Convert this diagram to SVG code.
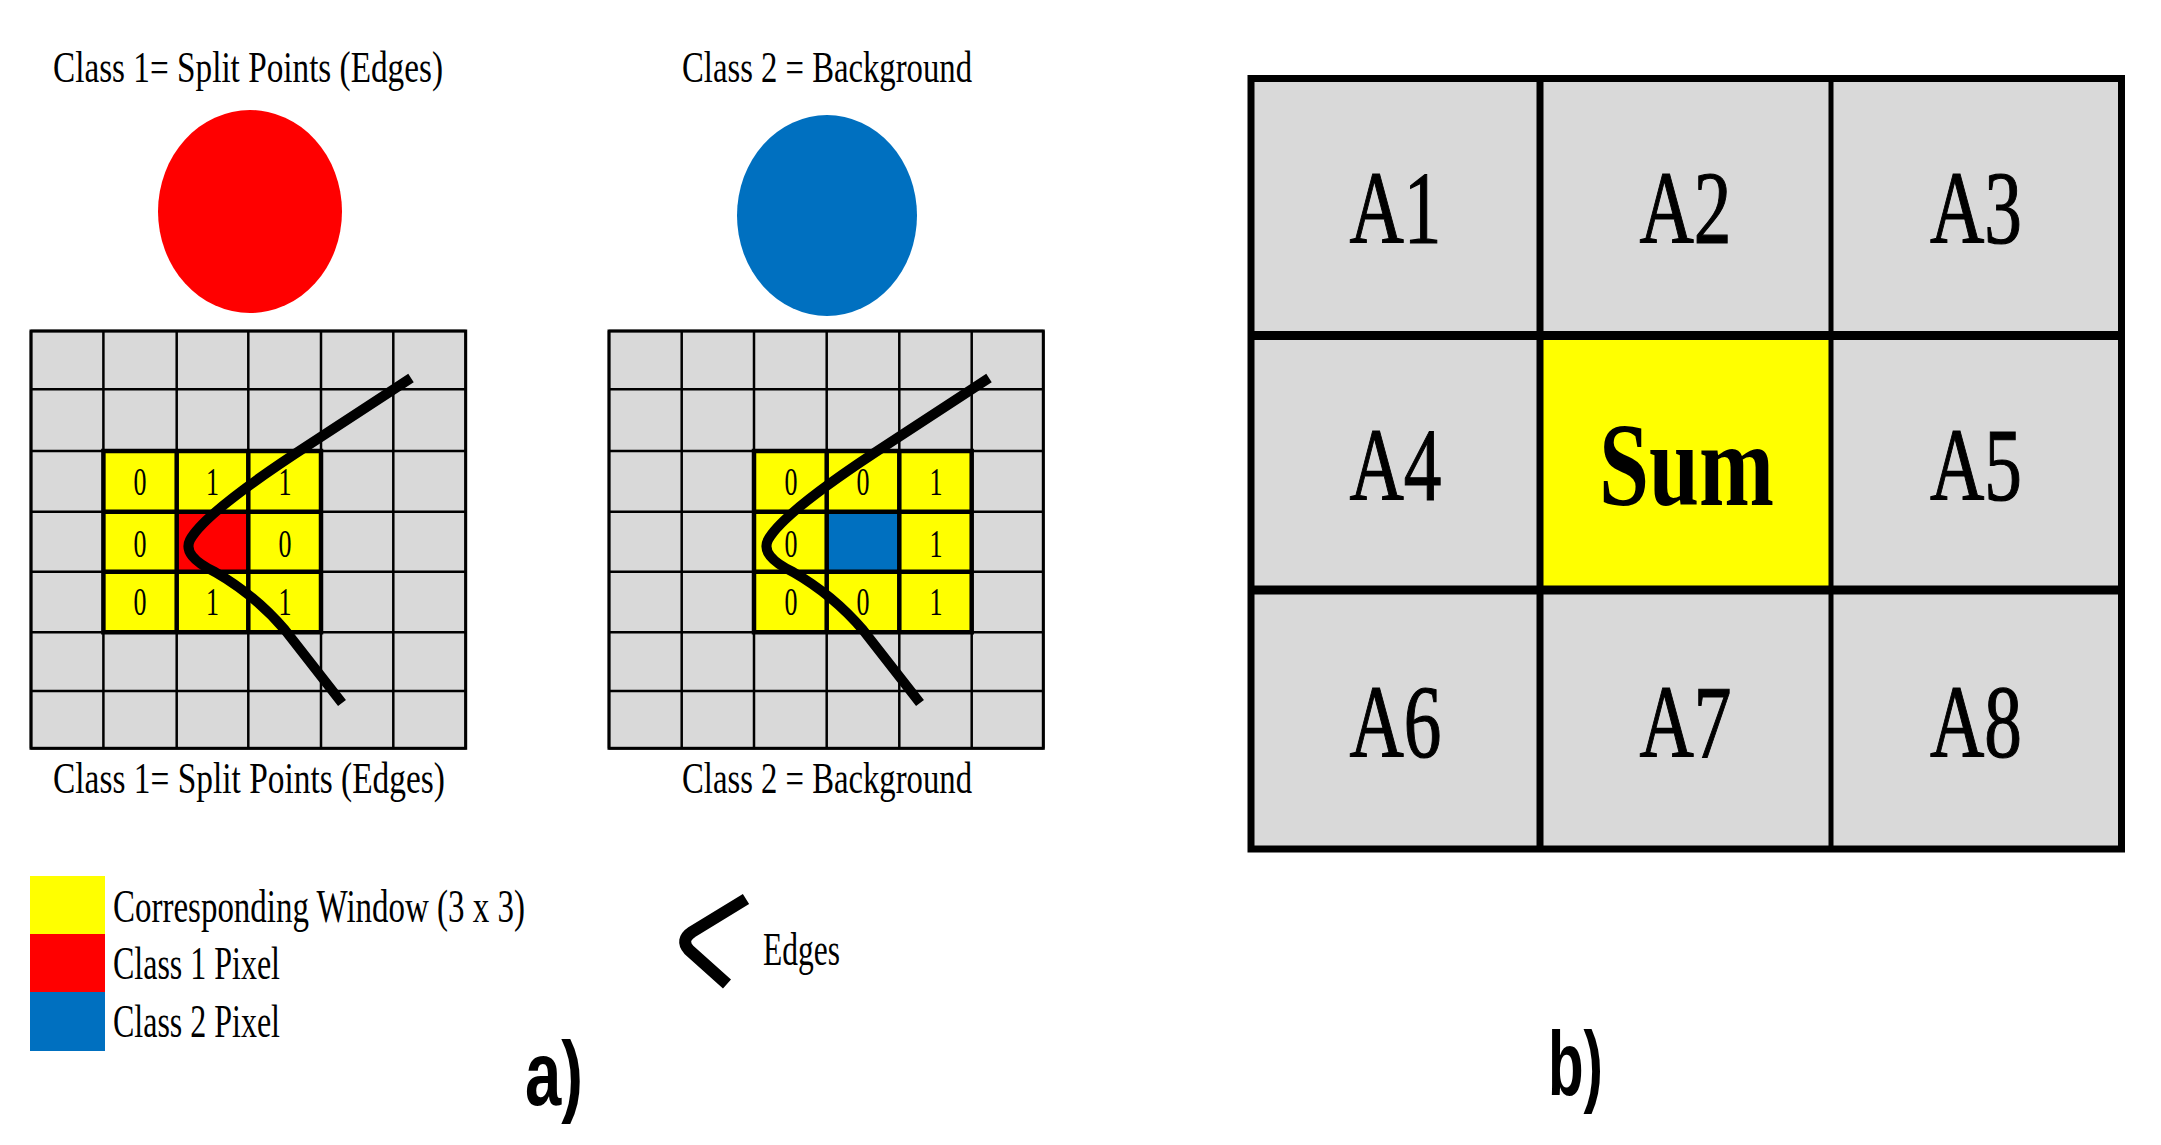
<svg xmlns="http://www.w3.org/2000/svg" width="2161" height="1145" viewBox="0 0 2161 1145">
<style>
.serif{font-family:"Liberation Serif","Times New Roman",serif;fill:#000}
.t{font-size:45px}
.leg{font-size:46px}
.dig{font-size:41px}
.big{font-size:103px;stroke:#000;stroke-width:1.2}
.sum{font-size:118px;font-weight:bold}
.lab{font-family:"Liberation Sans",Arial,sans-serif;font-weight:bold;font-size:90px;fill:#000}
.gline{stroke:#000;stroke-width:2.5;fill:none}
.wline{stroke:#000;stroke-width:4.5;fill:none}
.edge{stroke:#000;stroke-width:10;fill:none;stroke-linejoin:round}
.cell{fill:#D9D9D9}
.yel{fill:#FFFF00}
.red{fill:#FF0000}
.blue{fill:#0070C0}
</style>
<rect width="2161" height="1145" fill="#fff"/>

<g id="class1-top-title"><text class="serif t" x="53" y="82" textLength="390" lengthAdjust="spacingAndGlyphs">Class 1= Split Points (Edges)</text></g>
<g id="class2-top-title"><text class="serif t" x="682" y="82" textLength="290" lengthAdjust="spacingAndGlyphs">Class 2 = Background</text></g>
<g id="class1-circle"><ellipse class="red" cx="250" cy="211.5" rx="92" ry="101.5"/></g>
<g id="class2-circle"><ellipse class="blue" cx="827" cy="215.5" rx="90" ry="100.5"/></g>

<g id="grid-class1">
<rect class="cell" x="31" y="331" width="434.7" height="417.3"/>
<rect class="yel" x="103.4" y="451" width="217.6" height="181.3"/>
<rect class="red" x="176.7" y="511.7" width="71.6" height="60"/>
<path class="gline" d="M31,331V748.3M103.4,331V748.3M176.7,331V748.3M248.3,331V748.3M321,331V748.3M393.3,331V748.3M465.7,331V748.3M31,331H465.7M31,389.3H465.7M31,451H465.7M31,511.7H465.7M31,571.7H465.7M31,632.3H465.7M31,691H465.7M31,748.3H465.7"/>
<rect x="31" y="331" width="434.7" height="417.3" fill="none" stroke="#000" stroke-width="3"/>
<path class="wline" d="M103.4,451H321V632.3H103.4ZM176.7,451V632.3M248.3,451V632.3M103.4,511.7H321M103.4,571.7H321"/>
<g class="serif dig">
<text x="133.5" y="495" textLength="13" lengthAdjust="spacingAndGlyphs">0</text>
<text x="206" y="495" textLength="13" lengthAdjust="spacingAndGlyphs">1</text>
<text x="278.5" y="495" textLength="13" lengthAdjust="spacingAndGlyphs">1</text>
<text x="133.5" y="557" textLength="13" lengthAdjust="spacingAndGlyphs">0</text>
<text x="278.5" y="557" textLength="13" lengthAdjust="spacingAndGlyphs">0</text>
<text x="133.5" y="615" textLength="13" lengthAdjust="spacingAndGlyphs">0</text>
<text x="206" y="615" textLength="13" lengthAdjust="spacingAndGlyphs">1</text>
<text x="278.5" y="615" textLength="13" lengthAdjust="spacingAndGlyphs">1</text>
</g>
<path class="edge" d="M411,378 L310,444 Q205,512 190,540 Q182,556 215,572 Q255,595 285,630 L342,703"/>
</g>

<g id="grid-class2">
<rect class="cell" x="609" y="331" width="434.3" height="417.3"/>
<rect class="yel" x="754" y="451" width="217.7" height="181.3"/>
<rect class="blue" x="826.7" y="511.7" width="72.6" height="60"/>
<path class="gline" d="M609,331V748.3M681.7,331V748.3M754,331V748.3M826.7,331V748.3M899.3,331V748.3M971.7,331V748.3M1043.3,331V748.3M609,331H1043.3M609,389.3H1043.3M609,451H1043.3M609,511.7H1043.3M609,571.7H1043.3M609,632.3H1043.3M609,691H1043.3M609,748.3H1043.3"/>
<rect x="609" y="331" width="434.3" height="417.3" fill="none" stroke="#000" stroke-width="3"/>
<path class="wline" d="M754,451H971.7V632.3H754ZM826.7,451V632.3M899.3,451V632.3M754,511.7H971.7M754,571.7H971.7"/>
<g class="serif dig">
<text x="784.5" y="495" textLength="13" lengthAdjust="spacingAndGlyphs">0</text>
<text x="856.5" y="495" textLength="13" lengthAdjust="spacingAndGlyphs">0</text>
<text x="929.5" y="495" textLength="13" lengthAdjust="spacingAndGlyphs">1</text>
<text x="784.5" y="557" textLength="13" lengthAdjust="spacingAndGlyphs">0</text>
<text x="929.5" y="557" textLength="13" lengthAdjust="spacingAndGlyphs">1</text>
<text x="784.5" y="615" textLength="13" lengthAdjust="spacingAndGlyphs">0</text>
<text x="856.5" y="615" textLength="13" lengthAdjust="spacingAndGlyphs">0</text>
<text x="929.5" y="615" textLength="13" lengthAdjust="spacingAndGlyphs">1</text>
</g>
<path class="edge" d="M989,378 L888,444 Q783,512 768,540 Q760,556 793,572 Q833,595 863,630 L920,703"/>
</g>

<g id="class1-bottom-title"><text class="serif t" x="53" y="793" textLength="392" lengthAdjust="spacingAndGlyphs">Class 1= Split Points (Edges)</text></g>
<g id="class2-bottom-title"><text class="serif t" x="682" y="793" textLength="290" lengthAdjust="spacingAndGlyphs">Class 2 = Background</text></g>

<g id="legend">
<rect class="yel" x="30" y="876" width="75" height="58"/>
<rect class="red" x="30" y="934" width="75" height="58"/>
<rect class="blue" x="30" y="992" width="75" height="59"/>
<text class="serif leg" x="113" y="922" textLength="412" lengthAdjust="spacingAndGlyphs">Corresponding Window (3 x 3)</text>
<text class="serif leg" x="113" y="979" textLength="167" lengthAdjust="spacingAndGlyphs">Class 1 Pixel</text>
<text class="serif leg" x="113" y="1037" textLength="167" lengthAdjust="spacingAndGlyphs">Class 2 Pixel</text>
</g>

<g id="edges-legend">
<path d="M746,899 L692,932 Q680,940 689,950 L727,984" fill="none" stroke="#000" stroke-width="12"/>
<text class="serif leg" x="763" y="965" textLength="77" lengthAdjust="spacingAndGlyphs">Edges</text>
</g>

<g id="label-a"><text class="lab" x="525" y="1105" textLength="58" lengthAdjust="spacingAndGlyphs">a)</text></g>

<g id="grid-b">
<g id="cell-A1"><rect class="cell" x="1251" y="78.5" width="289" height="257"/><text class="serif big" x="1349.5" y="243" textLength="92" lengthAdjust="spacingAndGlyphs">A1</text></g>
<g id="cell-A2"><rect class="cell" x="1540" y="78.5" width="291" height="257"/><text class="serif big" x="1639.5" y="243" textLength="92" lengthAdjust="spacingAndGlyphs">A2</text></g>
<g id="cell-A3"><rect class="cell" x="1831" y="78.5" width="290.5" height="257"/><text class="serif big" x="1930" y="243" textLength="92" lengthAdjust="spacingAndGlyphs">A3</text></g>
<g id="cell-A4"><rect class="cell" x="1251" y="335.5" width="289" height="254.5"/><text class="serif big" x="1349.5" y="500" textLength="92" lengthAdjust="spacingAndGlyphs">A4</text></g>
<g id="cell-Sum"><rect class="yel" x="1540" y="335.5" width="291" height="254.5"/><text class="serif sum" x="1599" y="505" textLength="175" lengthAdjust="spacingAndGlyphs">Sum</text></g>
<g id="cell-A5"><rect class="cell" x="1831" y="335.5" width="290.5" height="254.5"/><text class="serif big" x="1930" y="500" textLength="92" lengthAdjust="spacingAndGlyphs">A5</text></g>
<g id="cell-A6"><rect class="cell" x="1251" y="590" width="289" height="259"/><text class="serif big" x="1349.5" y="757" textLength="92" lengthAdjust="spacingAndGlyphs">A6</text></g>
<g id="cell-A7"><rect class="cell" x="1540" y="590" width="291" height="259"/><text class="serif big" x="1639.5" y="757" textLength="92" lengthAdjust="spacingAndGlyphs">A7</text></g>
<g id="cell-A8"><rect class="cell" x="1831" y="590" width="290.5" height="259"/><text class="serif big" x="1930" y="757" textLength="92" lengthAdjust="spacingAndGlyphs">A8</text></g>
<path d="M1540,78.5V849" stroke="#000" stroke-width="7" fill="none"/>
<path d="M1831,78.5V849" stroke="#000" stroke-width="5" fill="none"/>
<path d="M1251,335.5H2121.5M1251,590H2121.5" stroke="#000" stroke-width="9" fill="none"/>
<rect x="1251" y="78.5" width="870.5" height="770.5" fill="none" stroke="#000" stroke-width="7"/>
</g>

<g id="label-b"><text class="lab" x="1548" y="1095" textLength="55" lengthAdjust="spacingAndGlyphs">b)</text></g>
</svg>
